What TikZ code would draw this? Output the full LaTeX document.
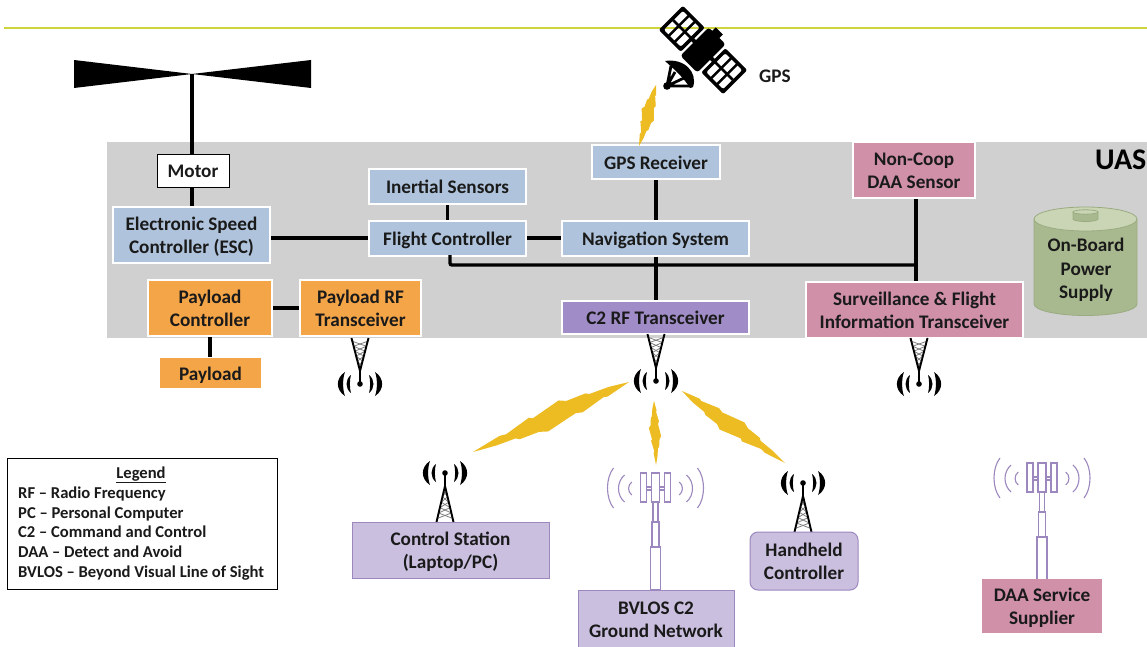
\documentclass[tikz,border=0pt]{standalone}
\usepackage{fontspec}
\setmainfont{Carlito}
\definecolor{blueb}{HTML}{AFC4DC}
\definecolor{pinkb}{HTML}{CF90A8}
\definecolor{orangeb}{HTML}{F4A548}
\definecolor{purpb}{HTML}{A08CC6}
\definecolor{lilac}{HTML}{CABFDF}
\definecolor{lilacd}{HTML}{9C88BE}
\definecolor{greyb}{HTML}{D0D0D0}
\definecolor{gold}{HTML}{ECBC22}
\definecolor{linecol}{HTML}{D0D43C}
\definecolor{inkc}{HTML}{1A1A1A}
\definecolor{batb}{HTML}{A9B98F}
\definecolor{batt}{HTML}{CAD5B6}
\definecolor{batl}{HTML}{9AAB80}
\newcommand\st{\rule[-4pt]{0pt}{22pt}}
\tikzset{
  box/.style={draw=white,line width=2pt,inner sep=0pt,align=center,text=inkc,
     font=\fontsize{19.2}{23}\selectfont\bfseries},
  bluebox/.style={box,fill=blueb},
  pinkbox/.style={box,fill=pinkb},
  orangebox/.style={box,fill=orangeb},
  purplebox/.style={box,fill=purpb},
  lilacbox/.style={box,fill=lilac,draw=lilacd,line width=1pt},
  wire/.style={draw=black,line width=3.4pt},
  lbl/.style={inner sep=0pt,text=inkc,font=\fontsize{16.6}{19}\selectfont\bfseries,text height=13pt,text depth=3pt},
}
\newcommand\blacktower[4]{%
 \begin{scope}[shift={(#1,#2)}]
  \foreach \s in {1,-1}{
   \begin{scope}[xscale=\s]
   \fill[black] (15,-12) .. controls (24.5,-6) and (24.5,6) .. (15,12) .. controls (17.5,6) and (17.5,-6) .. (15,-12);
   \fill[black] (9,-9) .. controls (15,-4.5) and (15,4.5) .. (9,9) .. controls (10.5,4.5) and (10.5,-4.5) .. (9,-9);
   \end{scope}}
  \fill[black] (0,0) circle (2.8);
  \begin{scope}[yscale=#3]
   \foreach \t in {.15,.3,.45,.6,.75}{
    \draw[gray,line width=.8pt] ({-8.5*\t},{13+(#4-13)*\t}) -- ({8.5*(\t+.15)},{13+(#4-13)*(\t+.15)});
    \draw[gray,line width=.8pt] ({8.5*\t},{13+(#4-13)*\t}) -- ({-8.5*(\t+.15)},{13+(#4-13)*(\t+.15)});}
   \draw[black,line width=1.9pt,line join=round] (-8.5,#4) -- (0,13) -- (8.5,#4);
   \draw[black,line width=1.6pt] (0,0) -- (0,13);
  \end{scope}
 \end{scope}}
\newcommand\celltower[2]{%
 \begin{scope}[shift={(#1,#2)},draw=lilacd,line width=1.1pt]
  \foreach \s in {1,-1}{
   \begin{scope}[xscale=\s]
    \draw (23.7,9) .. controls (28,12) and (28,19) .. (23.7,22);
    \draw (31,2) .. controls (39,9) and (39,22) .. (31,29);
    \draw (42,-5) .. controls (50,5) and (50,25) .. (42,35);
   \end{scope}}
  \draw[fill=white] (-15,0) rectangle (-9,29);
  \draw[fill=white] (9,0) rectangle (15,29);
  \draw (-9,14) -- (9,14) (-9,17) -- (9,17);
  \draw[fill=white] (-4,0) rectangle (4,29);
  \draw[fill=white] (-2.5,29) rectangle (2.5,49);
  \draw[fill=white] (-3.5,49) rectangle (3.5,74);
  \draw[fill=white] (-5,74) rectangle (5,117);
 \end{scope}}
\newcommand\bolt[5]{%
 \pgfmathsetmacro\bx{#3-(#1)}\pgfmathsetmacro\by{-(#4-(#2))}
 \pgfmathsetmacro\bl{veclen(\bx,\by)}
 \pgfmathsetmacro\nx{-\by/\bl*#5}\pgfmathsetmacro\ny{\bx/\bl*#5}
 \begin{scope}[shift={(#1,#2)},x={(\bx pt,\by pt)},y={(\nx pt,\ny pt)}]
  \fill[gold] (0,0) -- (.15,.38) -- (.17,.28) -- (.32,.72) -- (.36,.55) -- (.55,1) -- (.6,.72)
   -- (.72,.62) -- (.74,.42) -- (.86,.3) -- (1,0) -- (.82,-.32) -- (.78,-.22) -- (.62,-.7)
   -- (.6,-.52) -- (.42,-1) -- (.38,-.7) -- (.26,-.62) -- (.24,-.44) -- (.12,-.32) -- cycle;
 \end{scope}}
\begin{document}
\begin{tikzpicture}[x=1pt,y=-1pt]
\useasboundingbox (0,0) rectangle (1147,647);
\fill[white] (0,0) rectangle (1147,647);
\draw[linecol,line width=1.4pt] (4,28.2) -- (1147,28.2);
\fill[greyb] (107,142) rectangle (1147,338);

% satellite
\begin{scope}[shift={(703,50)},rotate=-45]
 \foreach \c in {-30,30}{
  \fill[black,even odd rule,rounded corners=2pt] (\c-15.5,-17) rectangle (\c+15.5,17)
    (\c-12,-13.5) rectangle (\c+12,13.5);
  \fill[black] (\c-12,-1.3) rectangle (\c+12,1.3);
  \fill[black] (\c-5.5,-14) rectangle (\c-3,14);
  \fill[black] (\c+3,-14) rectangle (\c+5.5,14);
 }
 \fill[black,rounded corners=3pt] (-12,-20) rectangle (12,20);
 \fill[black] (-7,-25) rectangle (3,-18);
 \fill[black] (-18,-2) rectangle (18,2);
\end{scope}
\fill[black] (665,61) .. controls (684,58) and (698,72) .. (693,87) -- (690,88) .. controls (684,78) and (675,70) .. cycle;
\draw[black,line width=2.8pt,line join=round] (671,66) -- (667,86) -- (692,86) (684,78) -- (667,86) (675,72) -- (667,86);
\fill[black] (667,86) circle (3.8);
\node[inner sep=0pt,text=inkc,font=\fontsize{19.2}{23}\selectfont\bfseries] (gps) at (775,76) {GPS};

\node[inner sep=0pt,text=black,font=\fontsize{30}{32}\selectfont\bfseries,anchor=west] (uas) at (1095,160) {UAS};

% rotor
\coordinate (hub) at (192,74);
\fill[black] (74,60) -- (hub) -- (74,88) -- cycle;
\fill[black] (311,60) -- (hub) -- (311,88) -- cycle;

% nodes
\node[box,fill=white,draw=black,line width=1pt,minimum width=72pt,minimum height=32pt] (motor) at (193,171) {\st Motor};
\node[bluebox,minimum width=157pt,minimum height=56pt] (esc) at (191.5,235) {\st Electronic Speed\\\st Controller (ESC)};
\node[bluebox,minimum width=157pt,minimum height=35pt] (ins) at (447.5,186.5) {\st Inertial Sensors};
\node[bluebox,minimum width=157pt,minimum height=35pt] (fc) at (447.5,238) {\st Flight Controller};
\node[bluebox,minimum width=187pt,minimum height=35pt] (nav) at (655.5,238) {\st Navigation System};
\node[bluebox,minimum width=128pt,minimum height=34pt] (gpsr) at (656,162) {\st GPS Receiver};
\node[pinkbox,minimum width=122pt,minimum height=56pt] (ncoop) at (914,170) {\st Non-Coop\\\st DAA Sensor};
\node[pinkbox,minimum width=217pt,minimum height=56pt] (surv) at (914.5,310) {\st Surveillance \& Flight\\\st Information Transceiver};
\node[purplebox,minimum width=187pt,minimum height=33pt] (c2) at (655.5,317.5) {\st C2 RF Transceiver};
\node[orangebox,minimum width=124pt,minimum height=56pt] (pc) at (210,308) {\st Payload\\\st Controller};
\node[orangebox,minimum width=121pt,minimum height=56pt] (prf) at (360.5,308) {\st Payload RF\\\st Transceiver};
\node[orangebox,draw=none,minimum width=101pt,minimum height=30pt] (pay) at (210.5,373) {\st Payload};

% connectors
\draw[wire] (hub) -- (motor.north -| hub);
\draw[wire] (motor.south -| hub) -- (esc.north -| hub);
\draw[wire] (esc.east |- fc.west) -- (fc.west);
\draw[wire] (ins.south) -- (fc.north);
\draw[wire] (fc.east) -- (nav.west);
\draw[wire] (gpsr.south) -- (gpsr.south |- nav.north);
\coordinate (busl) at (450,255);
\coordinate (busb) at (450,265);
\coordinate (busr) at (916,265);
\draw[wire,rounded corners=2pt] (busl) -- (busb) -- (busr);
\draw[wire] (nav.south -| gpsr) -- (c2.north -| gpsr);
\draw[wire] (ncoop.south -| busr) -- (surv.north -| busr);
\draw[wire] (pc.east) -- (prf.west);
\draw[wire] (pc.south) -- (pay.north -| pc);

% towers
\blacktower{360}{384}{-1}{46}
\blacktower{656}{381}{-1}{47}
\blacktower{919}{384}{-1}{46}
\blacktower{445}{473}{1}{49}
\blacktower{803}{483}{1}{49}
\celltower{655.5}{473}
\celltower{1042}{463}

% bolts
\bolt{656}{85}{639}{146}{7.5}
\bolt{629}{382}{473}{452}{12}
\bolt{654}{401}{656}{465}{6}
\bolt{682}{391}{785}{463}{10}

% lower nodes
\node[lilacbox,minimum width=197pt,minimum height=56pt] (cs) at (450.5,550) {\st Control Station\\\st (Laptop/PC)};
\node[lilacbox,minimum width=156pt,minimum height=70pt] (bv) at (656,625) {};
\node[inner sep=0pt,align=center,text=inkc,font=\fontsize{19.2}{23}\selectfont\bfseries] (bvt) at (656,619) {\st BVLOS C2\\\st Ground Network};
\node[lilacbox,rounded corners=8pt,minimum width=108pt,minimum height=58pt] (hh) at (804,561) {\st Handheld\\\st Controller};
\node[pinkbox,draw=none,minimum width=120pt,minimum height=54pt] (daa) at (1042,606) {\st DAA Service\\\st Supplier};

% battery
\draw[batl,fill=batb,line width=.8pt] (1034,219) -- (1034,304) arc[start angle=180,end angle=0,x radius=51.5,y radius=11.5] -- (1137,219);
\draw[batl,fill=batt,line width=.8pt] (1085.5,219) ellipse [x radius=51.5,y radius=12];
\draw[batl,fill=batb,line width=.8pt] (1073,212) -- (1073,219) arc[start angle=180,end angle=0,x radius=12.5,y radius=2.5] -- (1098,212);
\draw[batl,fill=batt,line width=.8pt] (1085.5,212) ellipse [x radius=12.5,y radius=2.2];
\node[inner sep=0pt,align=center,text=inkc,font=\fontsize{19.2}{23.5}\selectfont\bfseries] (bat) at (1086,268) {\st On-Board\\\st Power\\\st Supply};

% legend
\node[draw=black,line width=1pt,fill=white,minimum width=270pt,minimum height=131pt,inner sep=0pt] (leg) at (142,523.5) {};
\node[lbl] (legt) at (141,473) {\underline{Legend}};
\node[lbl,anchor=base west] (l1) at (18,498.5) {RF – Radio Frequency};
\node[lbl,anchor=base west] (l2) at (18,518) {PC – Personal Computer};
\node[lbl,anchor=base west] (l3) at (18,537.5) {C2 – Command and Control};
\node[lbl,anchor=base west] (l4) at (18,557.5) {DAA – Detect and Avoid};
\node[lbl,anchor=base west] (l5) at (18,577) {BVLOS – Beyond Visual Line of Sight};
\end{tikzpicture}
\end{document}
